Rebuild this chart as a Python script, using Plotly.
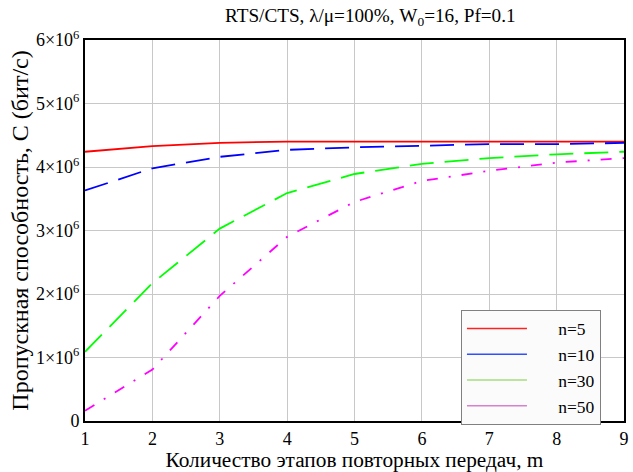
import plotly.graph_objects as go

m = [1, 2, 3, 4, 5, 6, 7, 8, 9]
c_n5 = [4.24e6, 4.33e6, 4.38e6, 4.40e6, 4.40e6, 4.40e6, 4.40e6, 4.40e6, 4.40e6]
c_n10 = [3.63e6, 3.98e6, 4.16e6, 4.27e6, 4.31e6, 4.34e6, 4.36e6, 4.36e6, 4.38e6]
c_n30 = [1.09e6, 2.17e6, 3.03e6, 3.59e6, 3.89e6, 4.05e6, 4.14e6, 4.20e6, 4.24e6]
c_n50 = [0.16e6, 0.81e6, 1.97e6, 2.90e6, 3.45e6, 3.78e6, 3.94e6, 4.07e6, 4.14e6]

names = ["n=5", "n=10", "n=30", "n=50"]
y_ticks = [0, 1e6, 2e6, 3e6, 4e6, 5e6, 6e6]
y_tick_text = ["0", "1×10<sup>6</sup>", "2×10<sup>6</sup>", "3×10<sup>6</sup>",
               "4×10<sup>6</sup>", "5×10<sup>6</sup>", "6×10<sup>6</sup>"]

series = [c_n5, c_n10, c_n30, c_n50]
colors = ["#ff0000", "#0000ff", "#00ff00", "#ff00ff"]
legend_colors = ["#ff2020", "#3050ff", "#a8dc80", "#d880d0"]
dashes = ["solid", "24px,11px", "24px,11px", "11px,11px,2px,11px"]

FONT = "Times New Roman"
LEAD = "\u00a0" * 6

fig = go.Figure()
for ys, col, d in zip(series, colors, dashes):
    fig.add_trace(go.Scatter(x=m, y=ys, mode="lines", showlegend=False,
                             line=dict(color=col, width=1.8, dash=d)))
# legend entries drawn with plain solid strokes
for name, col in zip(names, legend_colors):
    fig.add_trace(go.Scatter(x=[None], y=[None], mode="lines",
                             name=LEAD + name,
                             line=dict(color=col, width=1.5)))

fig.update_layout(
    width=633, height=472,
    margin=dict(l=85, r=9, t=40, b=51, autoexpand=False),
    paper_bgcolor="white", plot_bgcolor="white",
    font=dict(family=FONT, color="black", size=16),
    title=dict(text="RTS/CTS, λ/μ=100%, W<sub>0</sub>=16, Pf=0.1",
               x=0.3555, xanchor="left", y=0.968, yanchor="middle",
               font=dict(size=19.2, family=FONT, color="black")),
    legend=dict(x=0.6975, y=0.292, xanchor="left", yanchor="top",
                bgcolor="#fbfbfb", bordercolor="#808080", borderwidth=1,
                font=dict(size=17.5, family=FONT, color="black"), itemwidth=60,
                tracegroupgap=0),
    xaxis=dict(range=[1, 9], tickvals=m, showgrid=True, gridcolor="#c8c8c8",
               gridwidth=1, showline=True, linecolor="black", linewidth=2,
               mirror=True, ticks="", zeroline=False,
               tickfont=dict(size=18, family=FONT, color="black"),
               title=dict(text="Количество этапов повторных передач, m",
                          font=dict(size=21.3, family=FONT, color="black"),
                          standoff=2)),
    yaxis=dict(range=[0, 6e6], tickvals=y_ticks, ticktext=y_tick_text,
               showgrid=True, gridcolor="#c8c8c8", gridwidth=1,
               showline=True, linecolor="black", linewidth=2, mirror=True,
               ticks="", zeroline=False,
               tickfont=dict(size=18, family=FONT, color="black"),
               title=dict(text="Пропускная способность, C (бит/с)",
                          font=dict(size=24, family=FONT, color="black"),
                          standoff=1)),
)

fig.write_html("out.html")
